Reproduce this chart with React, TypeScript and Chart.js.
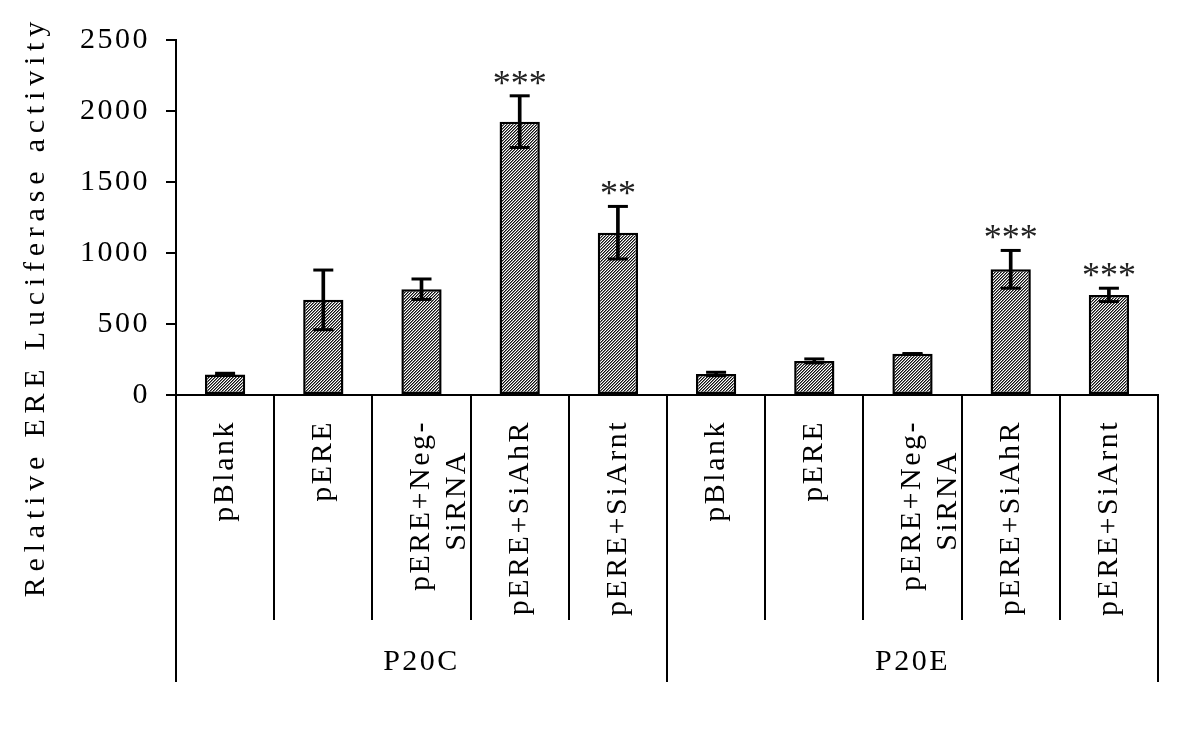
import React, { useEffect, useRef } from 'react';
import { Chart, registerables } from 'chart.js';

Chart.register(...registerables);

const FONT = "'Liberation Serif', 'Times New Roman', serif";

const groups = ['P20C', 'P20E'];
const categories: (string | string[])[] = [
  'pBlank', 'pERE', ['pERE+Neg-', 'SiRNA   '], 'pERE+SiAhR', 'pERE+SiArnt',
  'pBlank', 'pERE', ['pERE+Neg-', 'SiRNA   '], 'pERE+SiAhR', 'pERE+SiArnt',
];
const means = [145, 670, 745, 1925, 1143, 148, 240, 290, 885, 705];
const errors = [8, 210, 72, 182, 185, 12, 14, 2, 133, 47];
const stars = ['', '', '', '***', '**', '', '', '', '***', '***'];
const yMin = 0;
const yMax = 2500;
const yStep = 500;
const yTitle = 'Relative ERE Luciferase activity';

const BASE_SPACING = '2.5px';
const TITLE_SPACING = '5.8px';

export default function App() {
  const ref = useRef<HTMLCanvasElement>(null);

  useEffect(() => {
    const canvas = ref.current!;
    const tile = document.createElement('canvas');
    tile.width = 3;
    tile.height = 3;
    const tctx = tile.getContext('2d')!;
    const shades = ['#111111', '#7a7a7a', '#ffffff'];
    for (let px = 0; px < 3; px++) {
      for (let py = 0; py < 3; py++) {
        tctx.fillStyle = shades[(px + py) % 3];
        tctx.fillRect(px, py, 1, 1);
      }
    }
    const pattern = canvas.getContext('2d')!.createPattern(tile, 'repeat');

    const spacingPlugin = {
      id: 'spacing',
      beforeUpdate(chart: any) {
        chart.ctx.letterSpacing = BASE_SPACING;
      },
      beforeLayout(chart: any) {
        chart.ctx.letterSpacing = BASE_SPACING;
      },
      beforeDraw(chart: any) {
        chart.ctx.letterSpacing = BASE_SPACING;
        const tb = chart.titleBlock;
        if (tb && !tb.__wrapped) {
          const orig = tb.draw.bind(tb);
          tb.draw = (...args: any[]) => {
            const c = chart.ctx;
            c.save();
            c.letterSpacing = TITLE_SPACING;
            orig(...args);
            c.restore();
          };
          tb.__wrapped = true;
        }
      },
    };

    const starsPlugin = {
      id: 'stars',
      afterDatasetsDraw(chart: any) {
        const { ctx } = chart;
        const xs = chart.scales.x;
        const ys = chart.scales.y;
        ctx.save();
        ctx.letterSpacing = '0px';
        ctx.font = `36px ${FONT}`;
        ctx.fillStyle = '#222';
        ctx.textAlign = 'center';
        ctx.textBaseline = 'alphabetic';
        stars.forEach((s, i) => {
          if (!s) return;
          const px = xs.getPixelForValue(i);
          const py = ys.getPixelForValue(means[i] + errors[i]);
          ctx.fillText(s, px, py - 1);
        });
        ctx.restore();
      },
    };

    const chart = new Chart(canvas, {
      type: 'bar',
      data: {
        labels: categories as any,
        datasets: [
          {
            type: 'line',
            data: means.map((m, i) => m + errors[i]),
            showLine: false,
            pointStyle: 'line',
            pointRadius: 10,
            pointHoverRadius: 10,
            pointBorderWidth: 3,
            pointBorderColor: '#000',
            pointBackgroundColor: '#000',
            order: 0,
          } as any,
          {
            type: 'line',
            data: means.map((m, i) => m - errors[i]),
            showLine: false,
            pointStyle: 'line',
            pointRadius: 10,
            pointHoverRadius: 10,
            pointBorderWidth: 3,
            pointBorderColor: '#000',
            pointBackgroundColor: '#000',
            order: 1,
          } as any,
          {
            type: 'bar',
            data: means.map((m, i) => [m - errors[i], m + errors[i]]),
            backgroundColor: '#000',
            borderWidth: 0,
            barThickness: 3,
            grouped: false,
            order: 2,
          } as any,
          {
            type: 'bar',
            data: means,
            backgroundColor: pattern as any,
            borderColor: '#000',
            borderWidth: 2.5,
            borderSkipped: false,
            barPercentage: 0.41,
            categoryPercentage: 1,
            grouped: false,
            order: 3,
          } as any,
        ],
      },
      options: {
        responsive: false,
        animation: false,
        devicePixelRatio: 1,
        events: [],
        layout: { padding: { top: 16, right: 42, bottom: 52, left: 0 } },
        plugins: {
          legend: { display: false },
          tooltip: { enabled: false },
          title: {
            display: true,
            position: 'left',
            align: 'end',
            text: yTitle,
            color: '#000',
            font: { family: FONT, size: 30, weight: 'normal' as any },
            padding: { top: 18.5, bottom: 0 },
          },
        },
        scales: {
          x: {
            type: 'category',
            position: 'bottom',
            weight: 0,
            offset: true,
            grid: {
              offset: true,
              drawOnChartArea: false,
              drawTicks: true,
              tickLength: 225,
              color: '#000',
              lineWidth: 2,
            },
            border: { display: true, color: '#000', width: 2 },
            ticks: {
              autoSkip: false,
              maxRotation: 90,
              minRotation: 90,
              padding: -200,
              color: '#000',
              font: { family: FONT, size: 30 },
            },
            afterFit: (s: any) => {
              s.height = 225;
            },
          } as any,
          x2: {
            type: 'category',
            labels: groups,
            position: 'bottom',
            weight: 1,
            offset: true,
            grid: {
              offset: true,
              drawOnChartArea: false,
              drawTicks: true,
              tickLength: 62,
              color: '#000',
              lineWidth: 2,
            },
            border: { display: false },
            ticks: {
              autoSkip: false,
              maxRotation: 0,
              minRotation: 0,
              padding: -38,
              color: '#000',
              font: { family: FONT, size: 30 },
            },
            afterFit: (s: any) => {
              s.height = 75;
            },
          } as any,
          y: {
            type: 'linear',
            position: 'left',
            min: yMin,
            max: yMax,
            ticks: {
              stepSize: yStep,
              padding: 16,
              color: '#000',
              font: { family: FONT, size: 30 },
              callback: (v: any) => String(v),
            },
            grid: {
              drawOnChartArea: false,
              drawTicks: true,
              tickLength: 10,
              color: '#000',
              lineWidth: 2,
            },
            border: { display: true, color: '#000', width: 2 },
            afterFit: (s: any) => {
              s.width = 121.5;
              s.paddingTop = 40;
            },
          } as any,
        },
      },
      plugins: [spacingPlugin, starsPlugin],
    });

    return () => chart.destroy();
  }, []);

  return (
    <div style={{ position: 'fixed', left: 0, top: 0, width: 1200, height: 747, background: '#fff' }}>
      <canvas ref={ref} width={1200} height={747} style={{ display: 'block' }} />
    </div>
  );
}
